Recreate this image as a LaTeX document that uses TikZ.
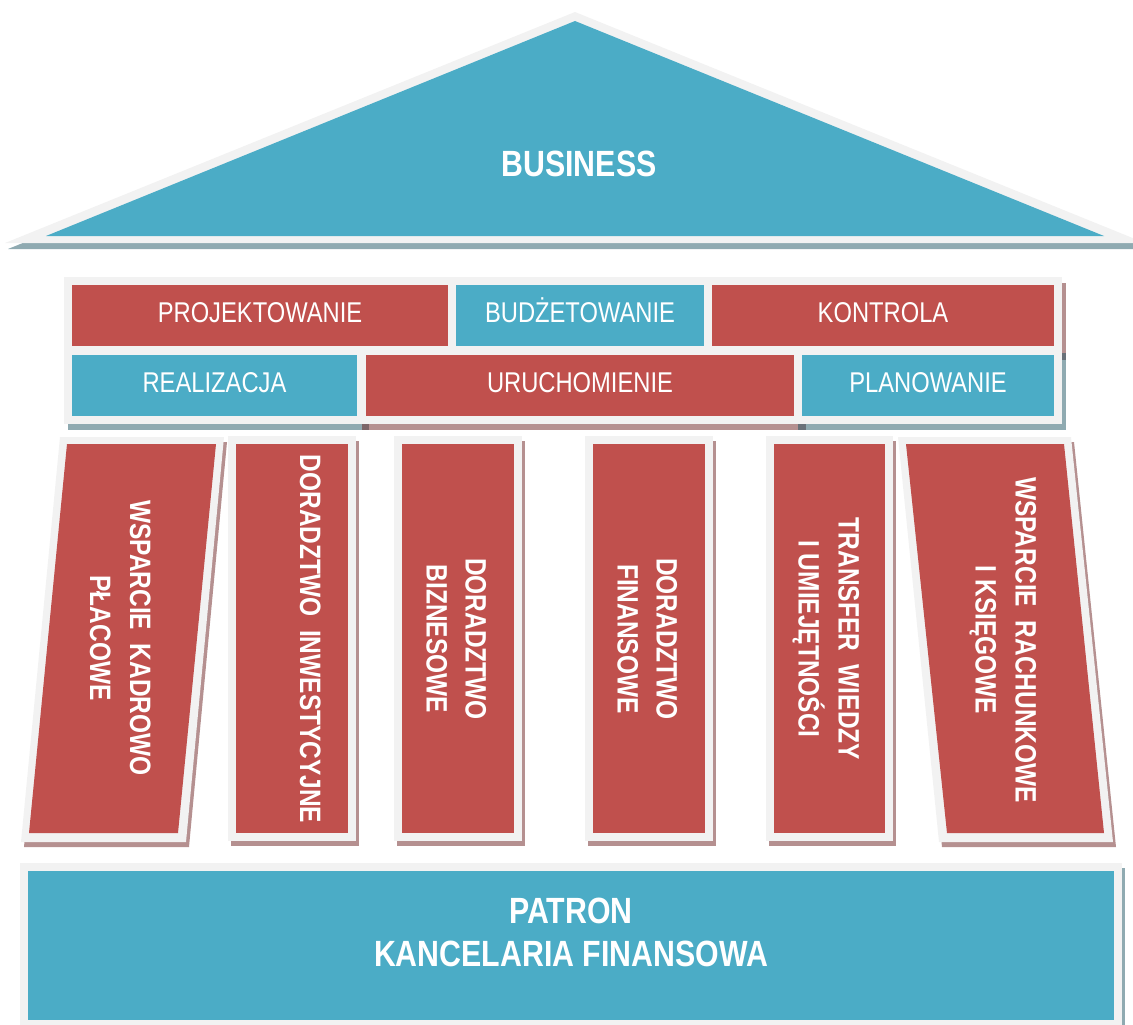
\documentclass[tikz,border=0pt]{standalone}
\usepackage{fontspec}
\setmainfont{Liberation Sans}[FakeStretch=0.83]
\definecolor{myteal}{HTML}{4BACC6}
\definecolor{myred}{HTML}{C0504D}
\definecolor{graybd}{HTML}{F2F2F2}
\definecolor{tealsh}{RGB}{31,85,99}
\definecolor{redsh}{RGB}{107,33,33}
\begin{document}
\begin{tikzpicture}[x=1pt,y=-1pt,
  tsh/.style={fill=tealsh,fill opacity=0.5},
  rsh/.style={fill=redsh,fill opacity=0.5},
  frm/.style={fill=graybd},
  tf/.style={fill=myteal},
  rf/.style={fill=myred},
  bigtxt/.style={text=white,inner sep=0pt,font=\bfseries\fontsize{36.5}{42}\selectfont,text height=26pt,text depth=0pt},
  beamtxt/.style={text=white,inner sep=0pt,font=\fontsize{28.6}{34}\selectfont,text height=20.5pt,text depth=0pt},
  coltxt/.style={text=white,inner sep=0pt,rotate=-90,font=\bfseries\fontsize{29.5}{40}\selectfont,text height=21pt,text depth=0pt}]
\useasboundingbox (0,0) rectangle (1133,1025);
\clip (0,0) rectangle (1133,1025);

% ---------- roof ----------
\fill[tsh] (8,249) -- (578,18) -- (1148,249) -- cycle;
\fill[frm] (5,243) -- (575,12) -- (1145,243) -- cycle;
\fill[tf] (46,236) -- (575,21) -- (1104,236) -- cycle;
\node[bigtxt] (business) at (579,163) {BUSINESS};

% ---------- beam: shadows ----------
\fill[rsh] (67.5,283) rectangle (459.5,360);
\fill[tsh] (451.5,283) rectangle (715.5,360);
\fill[rsh] (707.5,283) rectangle (1065.5,360);
\fill[tsh] (67.5,353) rectangle (368.5,430);
\fill[rsh] (361.5,353) rectangle (805.5,430);
\fill[tsh] (797.5,353) rectangle (1065.5,430);
% ---------- beam: frames ----------
\fill[frm] (64,277) rectangle (456,354);
\fill[frm] (448,277) rectangle (712,354);
\fill[frm] (704,277) rectangle (1062,354);
\fill[frm] (64,347) rectangle (365,424);
\fill[frm] (358,347) rectangle (802,424);
\fill[frm] (794,347) rectangle (1062,424);
% ---------- beam: fills ----------
\fill[rf] (72,285) rectangle (448,346);
\fill[tf] (456,285) rectangle (704,346);
\fill[rf] (712,285) rectangle (1054,346);
\fill[tf] (72,355) rectangle (357,416);
\fill[rf] (366,355) rectangle (794,416);
\fill[tf] (802,355) rectangle (1054,416);
\node[beamtxt] (proj) at (260,312.5) {PROJEKTOWANIE};
\node[beamtxt] (budz) at (580,312.5) {BUDŻETOWANIE};
\node[beamtxt] (kont) at (883,312.5) {KONTROLA};
\node[beamtxt] (real) at (214.5,382) {REALIZACJA};
\node[beamtxt] (uruch) at (580,382) {URUCHOMIENIE};
\node[beamtxt] (plan) at (928,382) {PLANOWANIE};

% ---------- columns: shadows ----------
\fill[rsh] (63,442) -- (227,442) -- (189,847) -- (24,847) -- cycle;
\fill[rsh] (231,441) rectangle (359,846);
\fill[rsh] (397,441) rectangle (525,846);
\fill[rsh] (588,441) rectangle (716,846);
\fill[rsh] (769,441) rectangle (896,846);
\fill[rsh] (901,442) -- (1074,442) -- (1116,847) -- (942,847) -- cycle;
% ---------- columns: frames ----------
\fill[frm] (60,437) -- (224,437) -- (186,842) -- (21,842) -- cycle;
\fill[frm] (228,436) rectangle (356,841);
\fill[frm] (394,436) rectangle (522,841);
\fill[frm] (585,436) rectangle (713,841);
\fill[frm] (766,436) rectangle (893,841);
\fill[frm] (898,437) -- (1071,437) -- (1113,842) -- (939,842) -- cycle;
% ---------- columns: fills ----------
\fill[rf] (67,444) -- (216,444) -- (178,833) -- (29,833) -- cycle;
\fill[rf] (236,444) rectangle (348,833);
\fill[rf] (402,444) rectangle (514,833);
\fill[rf] (593,444) rectangle (705,833);
\fill[rf] (774,444) rectangle (885,833);
\fill[rf] (906,444) -- (1064,444) -- (1104,833) -- (947,833) -- cycle;
% ---------- columns: labels ----------
\node[coltxt] (c1a) at (140.5,638) {WSPARCIE~~KADROWO};
\node[coltxt] (c1b) at (100.5,638) {PŁACOWE};
\node[coltxt] (c2a) at (310.5,639) {DORADZTWO~~INWESTYCYJNE};
\node[coltxt] (c3a) at (476,639) {DORADZTWO};
\node[coltxt] (c3b) at (437,639) {BIZNESOWE};
\node[coltxt] (c4a) at (667,639) {DORADZTWO};
\node[coltxt] (c4b) at (628,639) {FINANSOWE};
\node[coltxt] (c5a) at (849,639) {TRANSFER~~WIEDZY};
\node[coltxt] (c5b) at (809,639) {I~UMIEJĘTNOŚCI};
\node[coltxt] (c6a) at (1026,640) {WSPARCIE~~RACHUNKOWE};
\node[coltxt] (c6b) at (986,640) {I~KSIĘGOWE};

% ---------- base ----------
\fill[tsh] (23,868) rectangle (1125,1033);
\fill[frm] (20,863) rectangle (1122,1028);
\fill[tf] (28,871) rectangle (1114,1020);
\node[bigtxt] (patron) at (571,910.5) {PATRON};
\node[bigtxt] (kanc) at (571,953) {KANCELARIA FINANSOWA};
\end{tikzpicture}
\end{document}
